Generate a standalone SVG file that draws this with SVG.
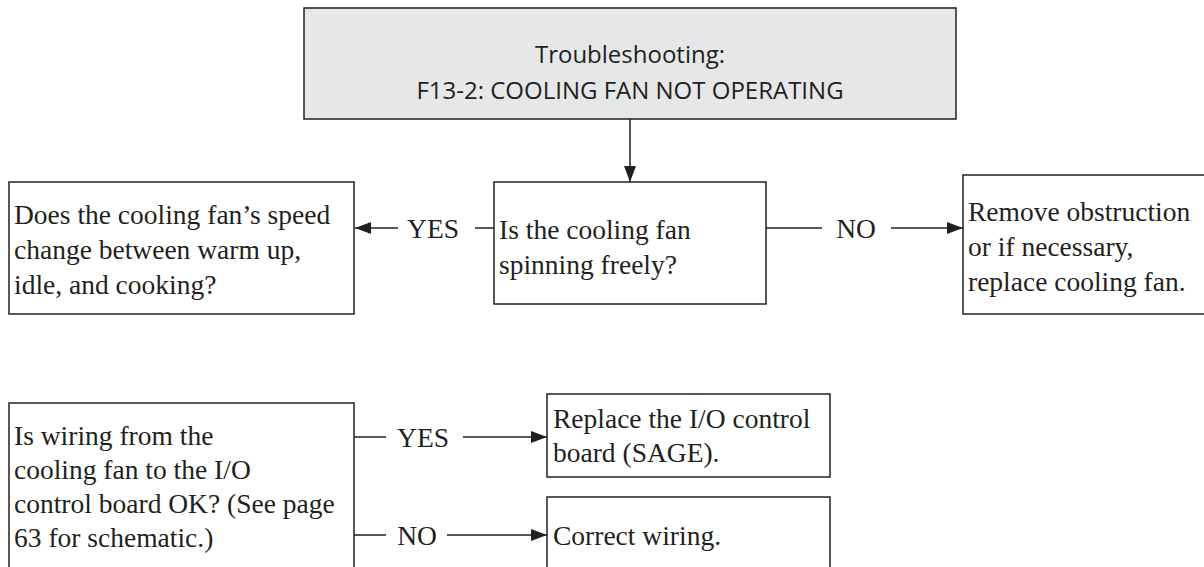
<svg xmlns="http://www.w3.org/2000/svg" width="1204" height="567" viewBox="0 0 1204 567">
<defs>
<style>
.box{fill:#ffffff;stroke:#231f20;stroke-width:1.5}
.title{fill:#e6e7e8;stroke:#231f20;stroke-width:1.5}
.ln{stroke:#231f20;stroke-width:1.5;fill:none}
.t{font-family:"Liberation Serif","Times New Roman",serif;font-size:27.5px;fill:#231f20}
.c{text-anchor:middle}
.s{font-family:"Open Sans","Noto Sans",sans-serif;font-size:24px;fill:#231f20;text-anchor:middle}
</style>
<marker id="ah" viewBox="0 0 16 12" markerWidth="16" markerHeight="12" refX="16" refY="6" orient="auto" markerUnits="userSpaceOnUse">
<path d="M0,0 L16,6 L0,12 Z" fill="#231f20"/>
</marker>
</defs>
<g id="title">
<rect class="title" x="304" y="8" width="652" height="111"/>
<text class="s" x="630" y="63">Troubleshooting:</text>
<text class="s" x="630" y="99">F13-2: COOLING FAN NOT OPERATING</text>
</g>
<g id="q1">
<rect class="box" x="494" y="182" width="272" height="122"/>
<text class="t" x="499" y="239">Is the cooling fan</text>
<text class="t" x="499" y="274">spinning freely?</text>
</g>
<g id="q2">
<rect class="box" x="9" y="182" width="345" height="132"/>
<text class="t" x="14" y="224">Does the cooling fan’s speed</text>
<text class="t" x="14" y="259">change between warm up,</text>
<text class="t" x="14" y="294">idle, and cooking?</text>
</g>
<g id="remove">
<rect class="box" x="963" y="175" width="250" height="139"/>
<text class="t" x="968" y="221">Remove obstruction</text>
<text class="t" x="968" y="256">or if necessary,</text>
<text class="t" x="968" y="291">replace cooling fan.</text>
</g>
<g id="q3">
<rect class="box" x="9" y="403" width="345" height="180"/>
<text class="t" x="14" y="445">Is wiring from the</text>
<text class="t" x="14" y="479">cooling fan to the I/O</text>
<text class="t" x="14" y="513">control board OK? (See page</text>
<text class="t" x="14" y="547">63 for schematic.)</text>
</g>
<g id="replace">
<rect class="box" x="547" y="394" width="283" height="83"/>
<text class="t" x="553" y="428">Replace the I/O control</text>
<text class="t" x="553" y="462">board (SAGE).</text>
</g>
<g id="correct">
<rect class="box" x="547" y="497" width="283" height="86"/>
<text class="t" x="553" y="545">Correct wiring.</text>
</g>
<g id="connectors">
<line class="ln" x1="630" y1="119" x2="630" y2="182" marker-end="url(#ah)"/>
<line class="ln" x1="494" y1="228" x2="475" y2="228"/>
<line class="ln" x1="398" y1="228" x2="355" y2="228" marker-end="url(#ah)"/>
<text class="t c" x="433" y="238">YES</text>
<line class="ln" x1="766" y1="228" x2="822" y2="228"/>
<line class="ln" x1="891" y1="228" x2="963" y2="228" marker-end="url(#ah)"/>
<text class="t c" x="856" y="238">NO</text>
<line class="ln" x1="354" y1="437" x2="386" y2="437"/>
<line class="ln" x1="463" y1="437" x2="547" y2="437" marker-end="url(#ah)"/>
<text class="t c" x="423" y="447">YES</text>
<line class="ln" x1="354" y1="535" x2="386" y2="535"/>
<line class="ln" x1="447" y1="535" x2="547" y2="535" marker-end="url(#ah)"/>
<text class="t c" x="417" y="545">NO</text>
</g>
</svg>
